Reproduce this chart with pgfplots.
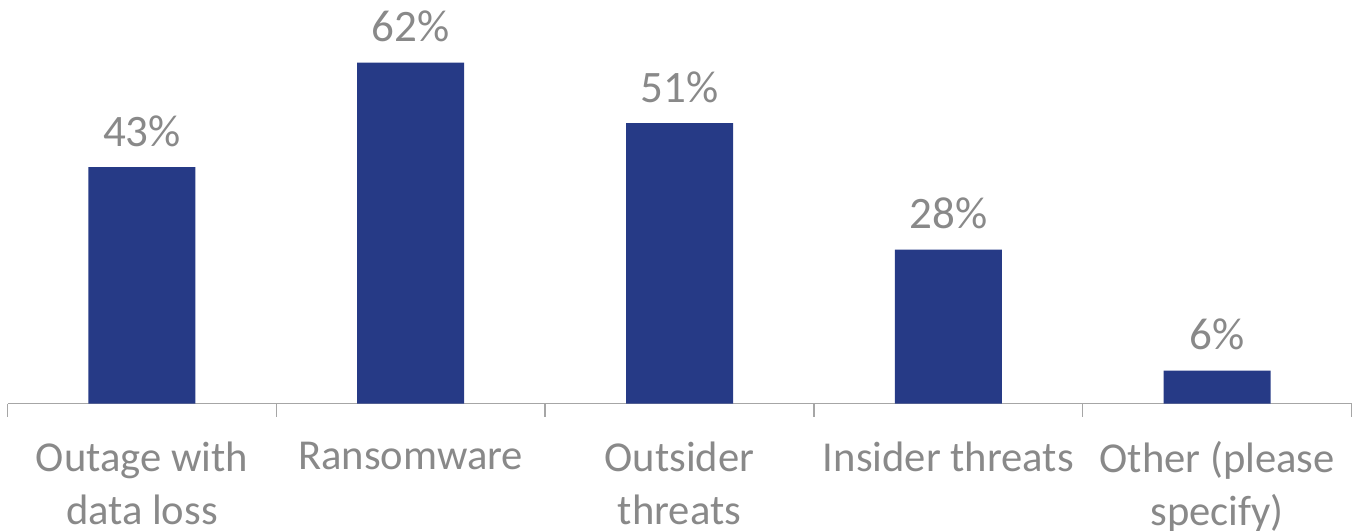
\documentclass[border=0pt]{standalone}
\usepackage{pgfplots}
\pgfplotsset{compat=1.18}
\usepackage{fontspec}
\setmainfont{Carlito}
\definecolor{barblue}{HTML}{263A86}
\definecolor{txtgray}{HTML}{898989}
\definecolor{axgray}{HTML}{A6A6A6}
\begin{document}
\begin{tikzpicture}
\begin{axis}[
    scale only axis,
    width=672pt, height=192.5pt,
    xmin=-0.5, xmax=4.5,
    ymin=0, ymax=70,
    enlarge x limits=false,
    axis x line=bottom,
    axis y line=none,
    x axis line style={-, axgray, line width=0.75pt},
    xtick={0,1,2,3,4},
    xticklabels={{Outage with\\data loss},Ransomware,{Outsider\\threats},Insider threats,{Other (please\\specify)}},
    major tick length=0pt,
    minor xtick={-0.5,0.5,1.5,2.5,3.5,4.5},
    minor tick length=6.5pt,
    tick align=outside,
    tick style={axgray, line width=0.75pt},
    xticklabel style={align=center, font=\fontsize{21.3}{26.5}\selectfont, text=txtgray, yshift=-15.5pt},
    /pgf/number format/assume math mode=true,
    ybar,
    bar width=53.5pt,
    nodes near coords={\pgfmathprintnumber{\pgfplotspointmeta}\%},
    every node near coord/.append style={font=\fontsize{22.5}{24.5}\selectfont, text=txtgray, anchor=base, yshift=10.5pt},
]
\addplot[fill=barblue, draw=none] coordinates {(0,43) (1,62) (2,51) (3,28) (4,6)};
\end{axis}
\pgfresetboundingbox
\path[use as bounding box] ([shift={(-3.75pt,-63.65pt)}]current axis.south west) rectangle ([shift={(1.25pt,9.35pt)}]current axis.north east);
\end{tikzpicture}
\end{document}
